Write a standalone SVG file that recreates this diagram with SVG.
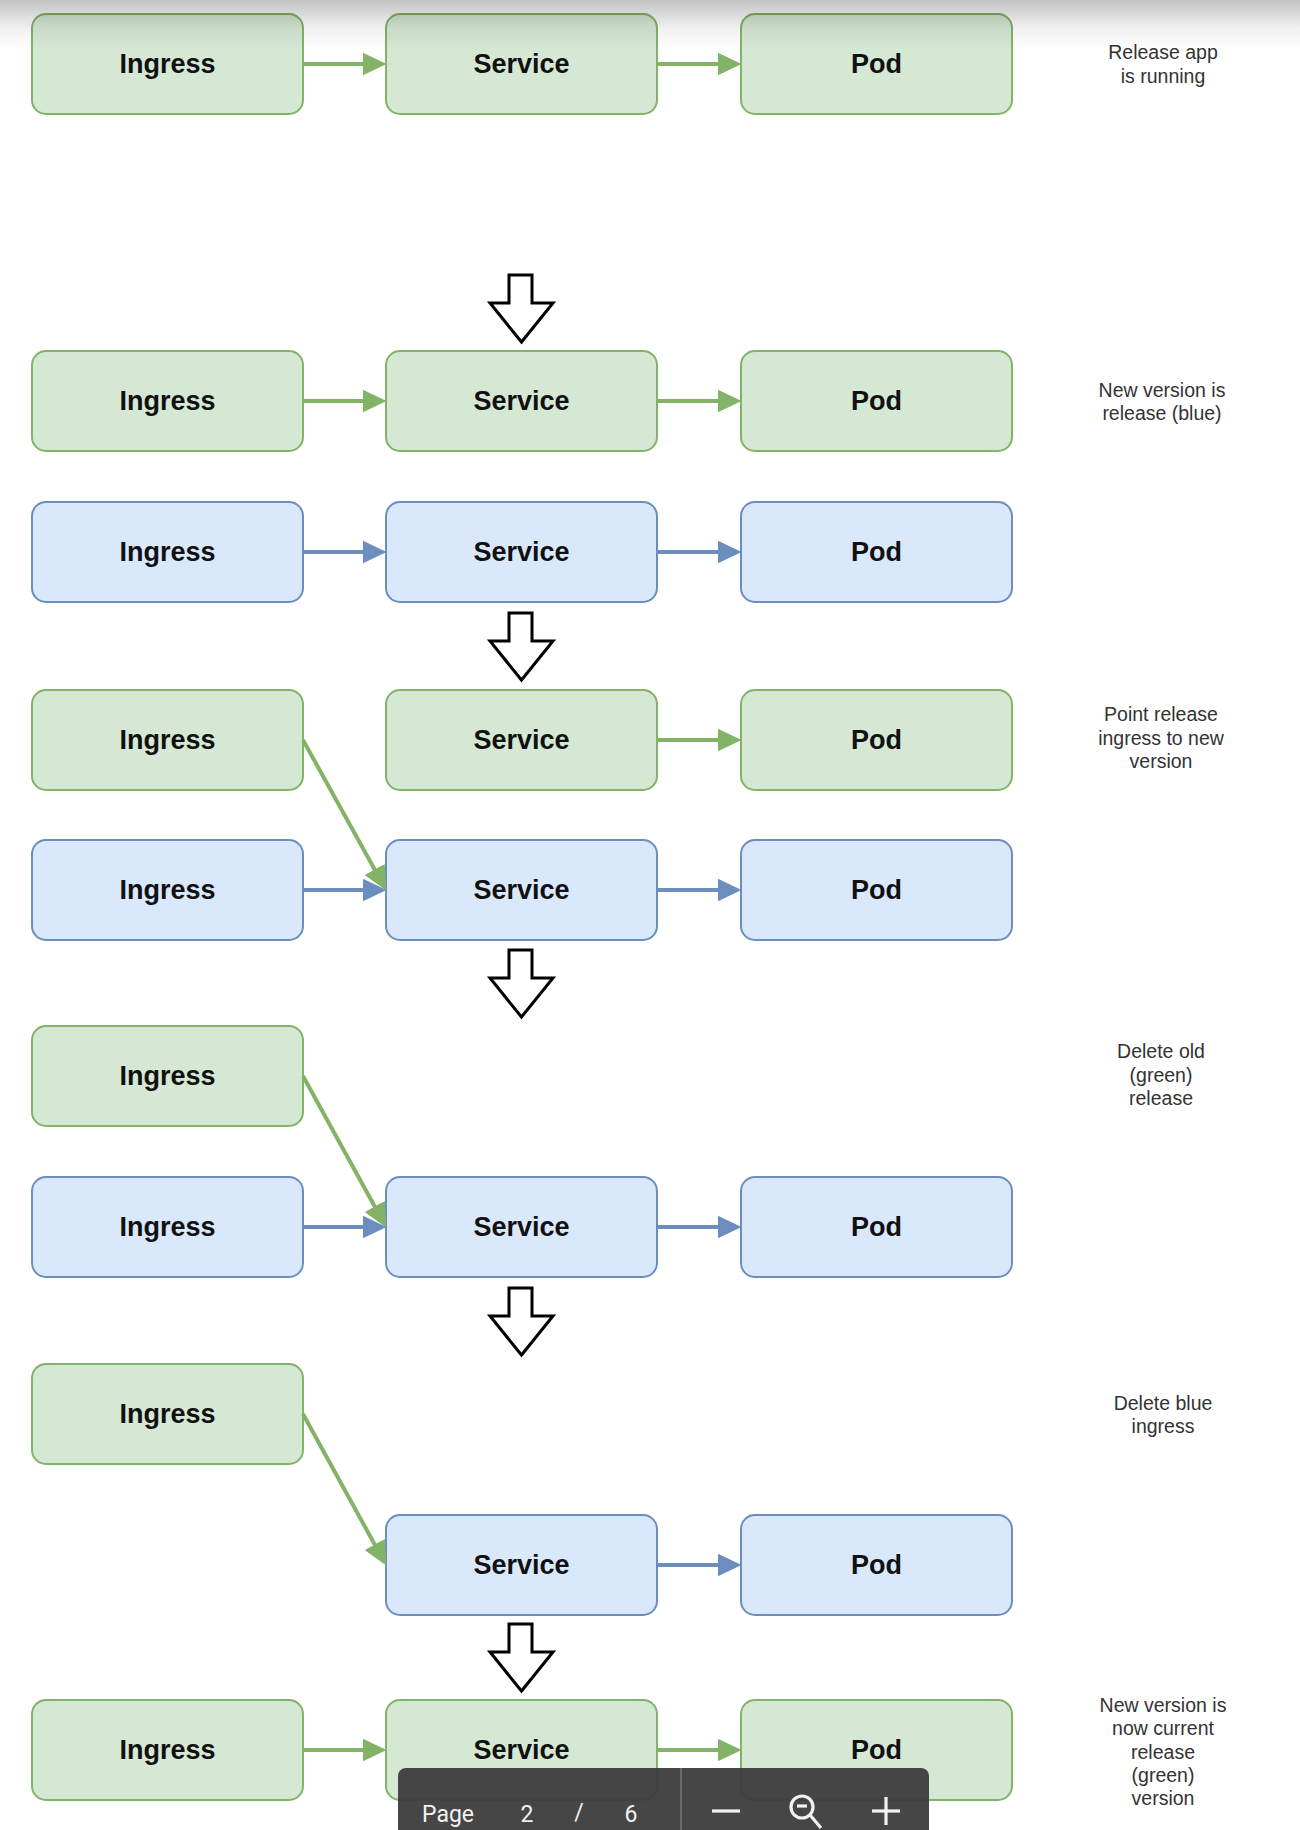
<svg xmlns="http://www.w3.org/2000/svg" width="1300" height="1830" viewBox="0 0 1300 1830">
  <defs>
    <style>
      .g rect { fill: #d5e8d4; stroke: #82b366; stroke-width: 2; }
      .b rect { fill: #dae8fc; stroke: #6c8ebf; stroke-width: 2; }
      .node text { font-family: "Liberation Sans", Arial, sans-serif; font-weight: bold; font-size: 27px; fill: #111; text-anchor: middle; }
      .eg { stroke: #82b366; stroke-width: 4; fill: none; marker-end: url(#headG); }
      .eb { stroke: #6c8ebf; stroke-width: 4; fill: none; marker-end: url(#headB); }
      .step { fill: #fff; stroke: #000; stroke-width: 3; stroke-linejoin: miter; }
      .note { font-family: "Liberation Sans", Arial, sans-serif; font-size: 19.5px; fill: #333; text-anchor: middle; }
      .bar text { font-family: Roboto, "Liberation Sans", sans-serif; font-size: 23px; fill: #f2f2f2; }
      .icon { stroke: #f2f2f2; stroke-width: 3.2; fill: none; }
    </style>
    <marker id="headG" markerUnits="userSpaceOnUse" markerWidth="24" markerHeight="24" viewBox="0 0 22 21" refX="16" refY="10.5" orient="auto">
      <path d="M0,0 L22,10.5 L0,21 Z" fill="#82b366"/>
    </marker>
    <marker id="headB" markerUnits="userSpaceOnUse" markerWidth="24" markerHeight="24" viewBox="0 0 22 21" refX="16" refY="10.5" orient="auto">
      <path d="M0,0 L22,10.5 L0,21 Z" fill="#6c8ebf"/>
    </marker>
    <linearGradient id="topShade" x1="0" y1="0" x2="0" y2="1">
      <stop offset="0" stop-color="#000" stop-opacity="0.24"/>
      <stop offset="0.55" stop-color="#000" stop-opacity="0.06"/>
      <stop offset="1" stop-color="#000" stop-opacity="0"/>
    </linearGradient>
    <!-- the hollow "next step" arrow, drawn at origin -->
    <path id="stepArrow" d="M-12.5,0 H10.5 V28 H31.5 L0,67 L-31.5,28 H-12.5 Z"/>
  </defs>

  <rect width="1300" height="1830" fill="#fff"/>

  <!-- Stage 1: release running -->
  <g id="s1-ingress" class="node g"><rect x="32" y="14" width="271" height="100" rx="14"/><text x="167.5" y="73">Ingress</text></g>
  <g id="s1-service" class="node g"><rect x="386" y="14" width="271" height="100" rx="14"/><text x="521.5" y="73">Service</text></g>
  <g id="s1-pod" class="node g"><rect x="741" y="14" width="271" height="100" rx="14"/><text x="876.5" y="73">Pod</text></g>

  <!-- Stage 2: new version released alongside -->
  <g id="s2-ingress-green" class="node g"><rect x="32" y="351" width="271" height="100" rx="14"/><text x="167.5" y="410">Ingress</text></g>
  <g id="s2-service-green" class="node g"><rect x="386" y="351" width="271" height="100" rx="14"/><text x="521.5" y="410">Service</text></g>
  <g id="s2-pod-green" class="node g"><rect x="741" y="351" width="271" height="100" rx="14"/><text x="876.5" y="410">Pod</text></g>
  <g id="s2-ingress-blue" class="node b"><rect x="32" y="502" width="271" height="100" rx="14"/><text x="167.5" y="561">Ingress</text></g>
  <g id="s2-service-blue" class="node b"><rect x="386" y="502" width="271" height="100" rx="14"/><text x="521.5" y="561">Service</text></g>
  <g id="s2-pod-blue" class="node b"><rect x="741" y="502" width="271" height="100" rx="14"/><text x="876.5" y="561">Pod</text></g>

  <!-- Stage 3: ingress switched over -->
  <g id="s3-ingress-green" class="node g"><rect x="32" y="690" width="271" height="100" rx="14"/><text x="167.5" y="749">Ingress</text></g>
  <g id="s3-service-green" class="node g"><rect x="386" y="690" width="271" height="100" rx="14"/><text x="521.5" y="749">Service</text></g>
  <g id="s3-pod-green" class="node g"><rect x="741" y="690" width="271" height="100" rx="14"/><text x="876.5" y="749">Pod</text></g>
  <g id="s3-ingress-blue" class="node b"><rect x="32" y="840" width="271" height="100" rx="14"/><text x="167.5" y="899">Ingress</text></g>
  <g id="s3-service-blue" class="node b"><rect x="386" y="840" width="271" height="100" rx="14"/><text x="521.5" y="899">Service</text></g>
  <g id="s3-pod-blue" class="node b"><rect x="741" y="840" width="271" height="100" rx="14"/><text x="876.5" y="899">Pod</text></g>

  <!-- Stage 4: old release removed -->
  <g id="s4-ingress-green" class="node g"><rect x="32" y="1026" width="271" height="100" rx="14"/><text x="167.5" y="1085">Ingress</text></g>
  <g id="s4-ingress-blue" class="node b"><rect x="32" y="1177" width="271" height="100" rx="14"/><text x="167.5" y="1236">Ingress</text></g>
  <g id="s4-service-blue" class="node b"><rect x="386" y="1177" width="271" height="100" rx="14"/><text x="521.5" y="1236">Service</text></g>
  <g id="s4-pod-blue" class="node b"><rect x="741" y="1177" width="271" height="100" rx="14"/><text x="876.5" y="1236">Pod</text></g>

  <!-- Stage 5: blue ingress removed -->
  <g id="s5-ingress-green" class="node g"><rect x="32" y="1364" width="271" height="100" rx="14"/><text x="167.5" y="1423">Ingress</text></g>
  <g id="s5-service-blue" class="node b"><rect x="386" y="1515" width="271" height="100" rx="14"/><text x="521.5" y="1574">Service</text></g>
  <g id="s5-pod-blue" class="node b"><rect x="741" y="1515" width="271" height="100" rx="14"/><text x="876.5" y="1574">Pod</text></g>

  <!-- Stage 6: new version is current -->
  <g id="s6-ingress" class="node g"><rect x="32" y="1700" width="271" height="100" rx="14"/><text x="167.5" y="1759">Ingress</text></g>
  <g id="s6-service" class="node g"><rect x="386" y="1700" width="271" height="100" rx="14"/><text x="521.5" y="1759">Service</text></g>
  <g id="s6-pod" class="node g"><rect x="741" y="1700" width="271" height="100" rx="14"/><text x="876.5" y="1759">Pod</text></g>

  <!-- connectors -->
  <g id="connectors">
    <line class="eg" x1="303" y1="64" x2="380" y2="64"/>
    <line class="eg" x1="657" y1="64" x2="735" y2="64"/>

    <line class="eg" x1="303" y1="401" x2="380" y2="401"/>
    <line class="eg" x1="657" y1="401" x2="735" y2="401"/>
    <line class="eb" x1="303" y1="552" x2="380" y2="552"/>
    <line class="eb" x1="657" y1="552" x2="735" y2="552"/>

    <line class="eg" x1="657" y1="740" x2="735" y2="740"/>
    <line class="eb" x1="303" y1="890" x2="380" y2="890"/>
    <line class="eb" x1="657" y1="890" x2="735" y2="890"/>
    <line class="eg" x1="303" y1="740" x2="383.1" y2="884.8"/>

    <line class="eb" x1="303" y1="1227" x2="380" y2="1227"/>
    <line class="eb" x1="657" y1="1227" x2="735" y2="1227"/>
    <line class="eg" x1="303" y1="1076" x2="383.1" y2="1221.8"/>

    <line class="eb" x1="657" y1="1565" x2="735" y2="1565"/>
    <line class="eg" x1="303" y1="1414" x2="383.1" y2="1559.8"/>

    <line class="eg" x1="303" y1="1750" x2="380" y2="1750"/>
    <line class="eg" x1="657" y1="1750" x2="735" y2="1750"/>
  </g>

  <!-- step arrows between stages -->
  <g id="steps">
    <use href="#stepArrow" class="step" x="521.5" y="275"/>
    <use href="#stepArrow" class="step" x="521.5" y="613"/>
    <use href="#stepArrow" class="step" x="521.5" y="950"/>
    <use href="#stepArrow" class="step" x="521.5" y="1288"/>
    <use href="#stepArrow" class="step" x="521.5" y="1624"/>
  </g>

  <!-- stage notes -->
  <g id="notes">
    <text class="note" x="1163" y="59">Release app</text>
    <text class="note" x="1163" y="83">is running</text>

    <text class="note" x="1162" y="397">New version is</text>
    <text class="note" x="1162" y="420">release (blue)</text>

    <text class="note" x="1161" y="721">Point release</text>
    <text class="note" x="1161" y="745">ingress to new</text>
    <text class="note" x="1161" y="768">version</text>

    <text class="note" x="1161" y="1058">Delete old</text>
    <text class="note" x="1161" y="1082">(green)</text>
    <text class="note" x="1161" y="1105">release</text>

    <text class="note" x="1163" y="1410">Delete blue</text>
    <text class="note" x="1163" y="1433">ingress</text>

    <text class="note" x="1163" y="1712">New version is</text>
    <text class="note" x="1163" y="1735">now current</text>
    <text class="note" x="1163" y="1759">release</text>
    <text class="note" x="1163" y="1782">(green)</text>
    <text class="note" x="1163" y="1805">version</text>
  </g>

  <!-- viewer shading along the top edge -->
  <rect x="0" y="0" width="1300" height="50" fill="url(#topShade)"/>

  <!-- page toolbar -->
  <g id="toolbar" class="bar">
    <rect x="398" y="1768" width="531" height="80" rx="8" fill="#3a3a3a" fill-opacity="0.94"/>
    <line x1="681" y1="1768" x2="681" y2="1830" stroke="#6a6a6a" stroke-width="2"/>
    <text x="422" y="1822">Page</text>
    <text x="527" y="1822" text-anchor="middle">2</text>
    <text x="579" y="1820" text-anchor="middle">/</text>
    <text x="631" y="1822" text-anchor="middle">6</text>
    <line class="icon" x1="712" y1="1811" x2="740" y2="1811"/>
    <circle class="icon" cx="802" cy="1807" r="11"/>
    <line class="icon" x1="797" y1="1806" x2="807" y2="1806"/>
    <line class="icon" x1="810" y1="1815" x2="821" y2="1828"/>
    <line class="icon" x1="872" y1="1811" x2="900" y2="1811"/>
    <line class="icon" x1="886" y1="1797" x2="886" y2="1825"/>
  </g>
</svg>
